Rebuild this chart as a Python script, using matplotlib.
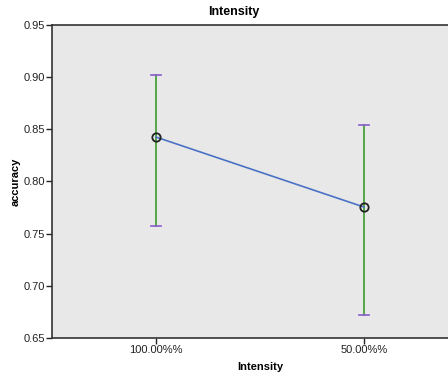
import matplotlib
matplotlib.use("Agg")
import matplotlib.pyplot as plt

categories = ["100.00%%", "50.00%%"]
means = [0.8426, 0.7755]
upper = [0.902, 0.854]
lower = [0.757, 0.672]

plt.rcParams['font.family'] = ['Liberation Sans', 'DejaVu Sans']

fig = plt.figure(figsize=(4.48, 3.74), dpi=100)
ax = fig.add_axes([52/448, 36/374, 416/448, 313/374])
ax.set_facecolor('#e8e8e8')

xs = list(range(len(categories)))
for x, lo, hi in zip(xs, lower, upper):
    ax.plot([x, x], [lo, hi], color='#3c9a2e', lw=1.2, zorder=2)
    ax.plot([x - 0.022, x + 0.022], [hi, hi], color='#8a5ccc', lw=1.2, zorder=3)
    ax.plot([x - 0.022, x + 0.022], [lo, lo], color='#8a5ccc', lw=1.2, zorder=3)
ax.plot(xs, means, color='#4a72c4', lw=1.2, zorder=4)
ax.plot(xs, means, 'o', mfc='none', mec='#222222', mew=1.3, ms=6, zorder=5)

ax.set_xlim(-0.5, 1.5)
ax.set_ylim(0.65, 0.95)
ax.set_xticks(xs)
ax.set_xticklabels(categories)
ax.set_yticks([0.65, 0.70, 0.75, 0.80, 0.85, 0.90, 0.95])
ax.set_yticklabels(["0.65", "0.70", "0.75", "0.80", "0.85", "0.90", "0.95"])
ax.tick_params(labelsize=8, length=4, width=1, color='#222222', labelcolor='#222222', pad=1)
for s in ['left', 'bottom', 'top']:
    ax.spines[s].set_color('#333333')
    ax.spines[s].set_linewidth(1.2)
ax.spines['right'].set_visible(False)

ax.set_xlabel("Intensity", fontsize=8, fontweight='bold', labelpad=5)
ax.set_ylabel("accuracy", fontsize=8, fontweight='bold', labelpad=2)
fig.text(234/448, 1 - 12/374, "Intensity", ha='center', va='center', fontsize=9, fontweight='bold')

fig.savefig("out.png", dpi=100)
